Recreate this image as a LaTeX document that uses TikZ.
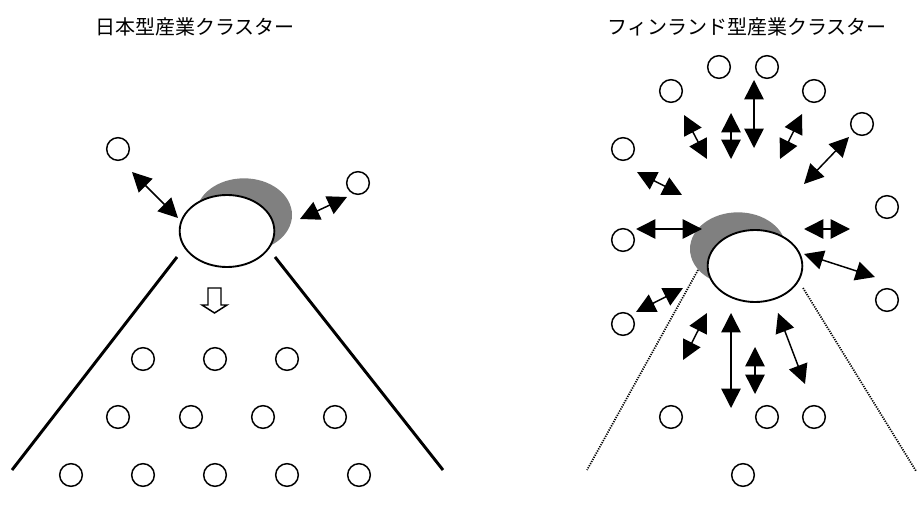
\documentclass[tikz,border=0pt]{standalone}
\usepackage{fontspec}
\newfontfamily\cjk{Noto Sans CJK JP}
\usetikzlibrary{arrows.meta,shapes.geometric}
\definecolor{shadegray}{RGB}{128,128,128}
\begin{document}
\begin{tikzpicture}[x=0.75pt,y=-0.75pt,
  sm/.style={circle,draw,line width=1.1pt,minimum size=17pt,inner sep=0pt},
  core/.style={ellipse,draw,fill=white,line width=1.4pt,minimum width=71pt,minimum height=54pt,inner sep=0pt},
  shadow/.style={ellipse,fill=shadegray,minimum width=72pt,minimum height=55pt,inner sep=0pt},
  dbl/.style={{Triangle[length=14.5pt,width=14.5pt]}-{Triangle[length=14.5pt,width=14.5pt]},line width=1.1pt},
  boundary/.style={line width=2.2pt},
  dotline/.style={line width=1.3pt,dash pattern=on 0.9pt off 0.9pt},
  title/.style={font=\cjk\fontsize{15pt}{18pt}\selectfont,inner sep=0pt}]
\useasboundingbox (0,0) rectangle (917,520);

% ---------------- left panel ----------------
\node[title] (t1) at (195,27) {日本型産業クラスター};
\node[shadow] (g1) at (244,215) {};
\node[core] (e1) at (227,231) {};
\node[sm] (a1) at (118,149) {};
\node[sm] (a2) at (358,183) {};
\coordinate (p1) at (132,172); \coordinate (p2) at (178,218);
\coordinate (p3) at (300,219); \coordinate (p4) at (347,197);
\draw[dbl] (p1) -- (p2);
\draw[dbl] (p3) -- (p4);
\coordinate (l1a) at (177,257); \coordinate (l1b) at (12,470);
\coordinate (l2a) at (275,257); \coordinate (l2b) at (443,470);
\draw[boundary] (l1a) -- (l1b);
\draw[boundary] (l2a) -- (l2b);
\draw[line width=1.1pt,fill=white] (208,288) -- (221,288) -- (221,305) -- (227,305) -- (214.5,313) -- (202,305) -- (208,305) -- cycle;
\node[sm] (r11) at (143,359) {};
\node[sm] (r12) at (215,359) {};
\node[sm] (r13) at (287,359) {};
\node[sm] (r21) at (118,417) {};
\node[sm] (r22) at (191,417) {};
\node[sm] (r23) at (263,417) {};
\node[sm] (r24) at (335,417) {};
\node[sm] (r31) at (71,475) {};
\node[sm] (r32) at (143,475) {};
\node[sm] (r33) at (215,475) {};
\node[sm] (r34) at (287,475) {};
\node[sm] (r35) at (359,475) {};

% ---------------- right panel ----------------
\node[title] (t2) at (747,27) {フィンランド型産業クラスター};
\node[shadow] (g2) at (738,249) {};
\node[core] (e2) at (755,266) {};
\node[sm] (f1) at (719,67) {};
\node[sm] (f2) at (767,67) {};
\node[sm] (f3) at (671,91) {};
\node[sm] (f4) at (814,91) {};
\node[sm] (f5) at (862,124) {};
\node[sm] (f6) at (623,149) {};
\node[sm] (f7) at (887,207) {};
\node[sm] (f8) at (623,240) {};
\node[sm] (f9) at (887,300) {};
\node[sm] (f10) at (623,324) {};
\node[sm] (f11) at (671,417) {};
\node[sm] (f12) at (767,417) {};
\node[sm] (f13) at (814,417) {};
\node[sm] (f14) at (743,475) {};

\coordinate (d1a) at (698,270); \coordinate (d1b) at (587,470);
\coordinate (d2a) at (803,288); \coordinate (d2b) at (916,471);
\draw[dotline] (d1a) -- (d1b);
\draw[dotline] (d2a) -- (d2b);

\coordinate (q1a) at (754,80);  \coordinate (q1b) at (754,148);
\coordinate (q2a) at (731,113); \coordinate (q2b) at (731,159);
\coordinate (q3a) at (684,115); \coordinate (q3b) at (707,159);
\coordinate (q4a) at (802,114); \coordinate (q4b) at (780,159);
\coordinate (q5a) at (849,137); \coordinate (q5b) at (804,184);
\coordinate (q6a) at (637,172); \coordinate (q6b) at (682,195);
\coordinate (q7a) at (636,229); \coordinate (q7b) at (702,229);
\coordinate (q8a) at (804,229); \coordinate (q8b) at (850,229);
\coordinate (q9a) at (804,254); \coordinate (q9b) at (875,277);
\coordinate (q10a) at (636,312); \coordinate (q10b) at (683,288);
\coordinate (q11a) at (707,313); \coordinate (q11b) at (683,360);
\coordinate (q12a) at (731,313); \coordinate (q12b) at (731,408);
\coordinate (q13a) at (755,347); \coordinate (q13b) at (755,394);
\coordinate (q14a) at (778,313); \coordinate (q14b) at (805,384);
\foreach \i in {1,...,14} {\draw[dbl] (q\i a) -- (q\i b);}
\end{tikzpicture}
\end{document}
